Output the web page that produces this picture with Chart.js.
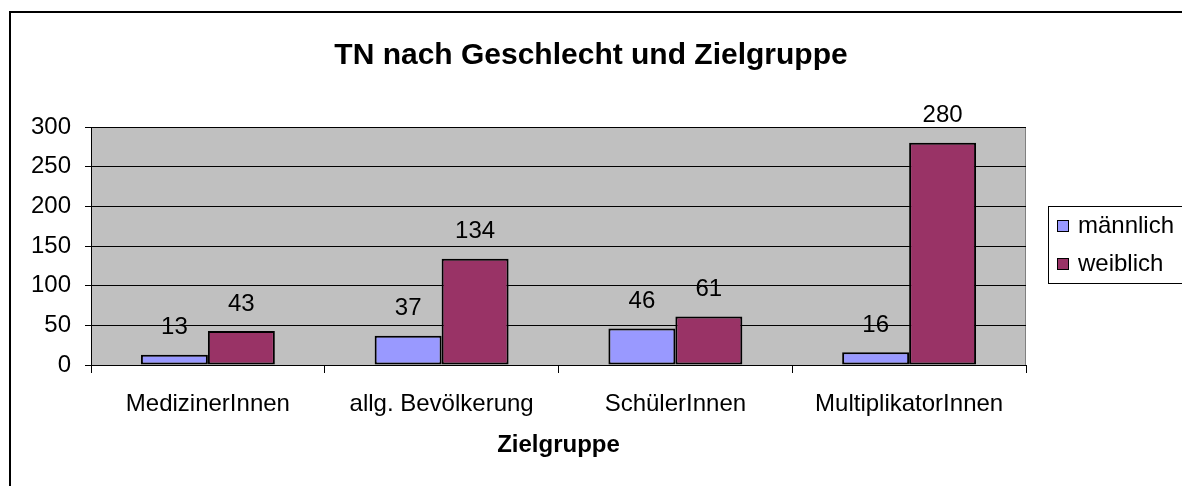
<!DOCTYPE html>
<html>
<head>
<meta charset="utf-8">
<script src="https://cdn.jsdelivr.net/npm/chart.js@4"></script>
<style>
  html, body { margin: 0; padding: 0; background: #fff; overflow: hidden; }
  #wrap { width: 1182px; height: 486px; }
</style>
</head>
<body>
<div id="wrap"><canvas id="myChart" width="1182" height="486"></canvas></div>
<script>
const categories = ['MedizinerInnen', 'allg. Bevölkerung', 'SchülerInnen', 'MultiplikatorInnen']
const maennlich = [13, 37, 46, 16]
const weiblich = [43, 134, 61, 280]
const yTicks = [0, 50, 100, 150, 200, 250, 300]
const titel = 'TN nach Geschlecht und Zielgruppe'

const FONT = '"Liberation Sans", Arial, sans-serif'

// Hintergrund, Rahmen, Titel und eigene Legende
const deko = {
  id: 'deko',
  beforeDraw(chart) {
    const { ctx, chartArea: a } = chart
    ctx.save()
    ctx.fillStyle = '#fff'
    ctx.fillRect(0, 0, chart.width, chart.height)
    ctx.strokeStyle = '#000'
    ctx.lineWidth = 2
    ctx.strokeRect(10, 12, 1400, 800)
    ctx.fillStyle = '#C0C0C0'
    ctx.fillRect(a.left, a.top, a.right - a.left, a.bottom - a.top)
    ctx.strokeStyle = '#808080'
    ctx.lineWidth = 1
    ctx.strokeRect(a.left + 0.5, a.top + 0.5, a.right - a.left - 1, a.bottom - a.top)
    // Titel mittig über der ganzen Fläche
    ctx.fillStyle = '#000'
    ctx.font = 'bold 30px ' + FONT
    ctx.textAlign = 'center'
    ctx.textBaseline = 'middle'
    ctx.fillText(titel, 591, 56)
    ctx.restore()
  },
  afterDatasetsDraw(chart) {
    const { ctx } = chart
    ctx.save()
    ctx.font = '24px ' + FONT
    ctx.fillStyle = '#000'
    ctx.textAlign = 'center'
    ctx.textBaseline = 'middle'
    chart.data.datasets.forEach((ds, i) => {
      chart.getDatasetMeta(i).data.forEach((bar, j) => {
        ctx.fillText(ds.data[j], bar.x, bar.y - 27)
      })
    })
    ctx.restore()
  },
  afterDraw(chart) {
    const { ctx } = chart
    ctx.save()
    ctx.strokeStyle = '#000'
    ctx.lineWidth = 1
    ctx.strokeRect(1048.5, 206.5, 200, 77)
    ctx.font = '24px ' + FONT
    ctx.textBaseline = 'middle'
    chart.data.datasets.forEach((ds, i) => {
      const y = 226 + i * 38
      ctx.fillStyle = ds.backgroundColor
      ctx.fillRect(1057, y - 6, 12, 12)
      ctx.strokeRect(1057.5, y - 5.5, 11, 11)
      ctx.fillStyle = '#000'
      ctx.fillText(ds.label, 1078, y)
    })
    ctx.restore()
  }
}

new Chart(document.getElementById('myChart'), {
  type: 'bar',
  data: {
    labels: categories,
    datasets: [
      { label: 'männlich', data: maennlich, backgroundColor: '#9999FF', borderColor: '#000', borderWidth: 2, borderSkipped: false },
      { label: 'weiblich', data: weiblich, backgroundColor: '#993366', borderColor: '#000', borderWidth: 2, borderSkipped: false }
    ]
  },
  options: {
    responsive: false,
    animation: false,
    layout: { padding: { left: 0, right: 156, top: 127, bottom: 0 } },
    datasets: { bar: { categoryPercentage: 0.573, barPercentage: 1 } },
    plugins: {
      legend: { display: false },
      tooltip: { enabled: false },
      title: { display: false }
    },
    scales: {
      x: {
        grid: { display: true, drawOnChartArea: false, drawTicks: true, tickLength: 8, color: '#000', offset: true },
        border: { color: '#000', width: 1 },
        ticks: { color: '#000', font: { family: FONT, size: 24 }, padding: 17, maxRotation: 0 },
        title: { display: true, text: 'Zielgruppe', color: '#000', font: { family: FONT, size: 24, weight: 'bold' }, padding: { top: 0, bottom: 26 } },
        afterFit(scale) { scale.height = 121 }
      },
      y: {
        min: 0,
        max: 300,
        afterBuildTicks(scale) { scale.ticks = yTicks.map(v => ({ value: v })) },
        grid: { color: '#000', tickLength: 6, lineWidth: 1 },
        border: { color: '#000', width: 1 },
        ticks: { color: '#000', font: { family: FONT, size: 24 }, padding: 14 },
        afterFit(scale) { scale.width = 91 }
      }
    }
  },
  plugins: [deko]
})
</script>
</body>
</html>
